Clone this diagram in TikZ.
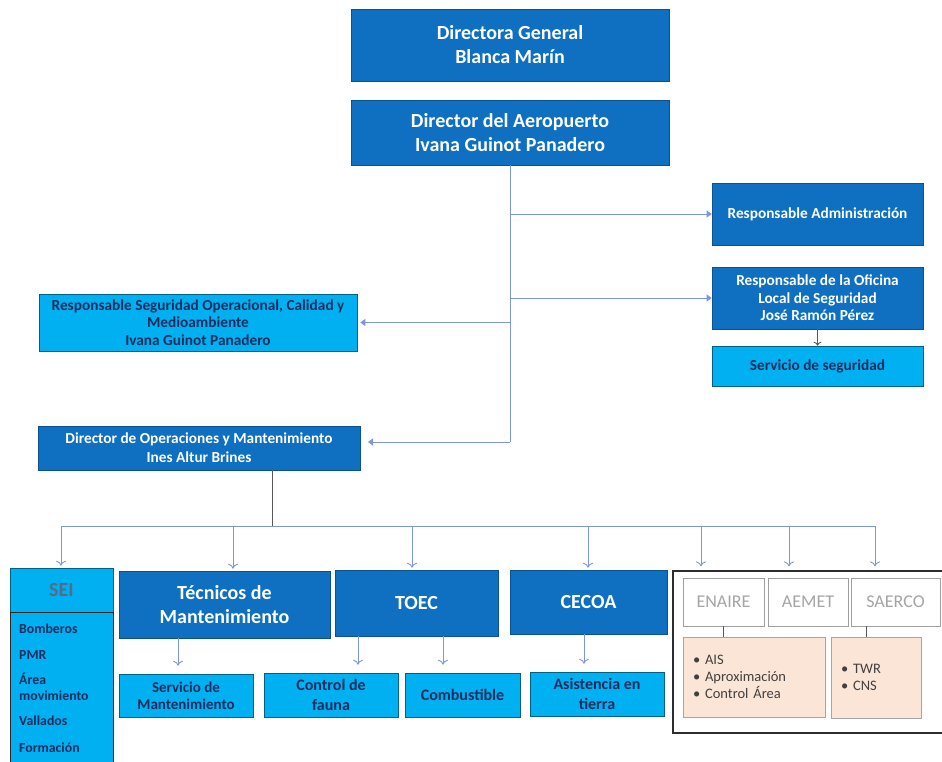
\documentclass[tikz,border=0pt]{standalone}
\usepackage{fontspec}
\setmainfont{Carlito}
\usetikzlibrary{arrows.meta}
\definecolor{dblue}{RGB}{15,111,192}
\definecolor{lblue}{RGB}{0,176,240}
\definecolor{navy}{RGB}{24,45,95}
\definecolor{connc}{RGB}{125,150,222}
\definecolor{peach}{RGB}{251,229,214}
\definecolor{gtext}{RGB}{165,165,165}
\definecolor{dtext}{RGB}{64,64,64}
\definecolor{seitext}{RGB}{80,110,140}
\tikzset{
 dbox/.style={draw=dblue!75!black, line width=0.6pt, fill=dblue, text=white, align=center, inner sep=2pt},
 lbox/.style={draw=lblue!55!black, line width=0.6pt, fill=lblue, text=navy, align=center, inner sep=2pt},
 gbox/.style={draw=gray!75, line width=0.9pt, fill=white, text=gtext, align=center, inner sep=2pt, font=\fontsize{18}{21}\selectfont},
 pbox/.style={draw=gray!70, line width=0.9pt, fill=peach, text=dtext, align=left, inner xsep=10pt, font=\fontsize{14.5}{17}\selectfont},
 connl/.style={draw=connc, line width=0.9pt},
 arr/.style={connl, -{To[length=5pt,width=10pt]}},
 harr/.style={connl, -{Triangle[length=5pt,width=7pt]}},
 grayl/.style={draw=gray!70!black, line width=0.9pt},
 midfont/.style={font=\bfseries\fontsize{15.3}{17.5}\selectfont},
}
\begin{document}
\begin{tikzpicture}[x=1pt,y=-1pt]
\useasboundingbox (0,0) rectangle (942,762);
% top
\node[dbox, minimum width=318pt, minimum height=72pt, font=\bfseries\fontsize{20}{24}\selectfont] (dg) at (510,45) {Directora General\\Blanca Marín};
\node[dbox, minimum width=318pt, minimum height=65pt, font=\bfseries\fontsize{20}{24}\selectfont] (da) at (510,132.5) {Director del Aeropuerto\\Ivana Guinot Panadero};
% right
\node[dbox, minimum width=211pt, minimum height=62pt, midfont] (radm) at (817.5,214) {Responsable Administración};
\node[dbox, minimum width=211pt, minimum height=62pt, midfont] (rofi) at (817.5,298) {Responsable de la Oficina\\Local de Seguridad\\José Ramón Pérez};
\node[lbox, minimum width=211pt, minimum height=40pt, midfont] (sseg) at (817.5,366) {Servicio de seguridad};
% left
\node[lbox, minimum width=318pt, minimum height=57pt, midfont] (rso) at (198,322.5) {Responsable Seguridad Operacional, Calidad y\\Medioambiente\\Ivana Guinot Panadero};
\node[dbox, minimum width=322pt, minimum height=44pt, font=\bfseries\fontsize{15.3}{19}\selectfont] (dops) at (199,448) {Director de Operaciones y Mantenimiento\\Ines Altur Brines};
% bottom row
\node[lbox, minimum width=103pt, minimum height=44pt, text=seitext, font=\bfseries\fontsize{20}{24}\selectfont] (sei) at (61.5,590) {SEI};
\node[lbox, draw=gray!30!black, line width=1pt, minimum width=103pt, minimum height=160pt, anchor=north] (seil) at (61.5,612) {};
\node[anchor=north west, align=left, inner sep=0pt, text=navy, font=\bfseries\fontsize{13.8}{15.5}\selectfont] (seilt) at (19,624) {Bomberos\\[10pt]PMR\\[10pt]Área\\movimiento\\[10pt]Vallados\\[11pt]Formación};
\node[dbox, minimum width=211pt, minimum height=67pt, font=\bfseries\fontsize{20}{24}\selectfont] (tec) at (224.5,604.5) {Técnicos de\\Mantenimiento};
\node[dbox, minimum width=163pt, minimum height=66pt, font=\bfseries\fontsize{20}{24}\selectfont] (toec) at (416.5,603) {TOEC};
\node[dbox, minimum width=157pt, minimum height=64pt, font=\bfseries\fontsize{20}{24}\selectfont] (cecoa) at (588.5,602) {CECOA};
\node[lbox, minimum width=134pt, minimum height=43pt, font=\bfseries\fontsize{15}{17}\selectfont] (smant) at (186,695.5) {Servicio de\\Mantenimiento};
\node[lbox, minimum width=134pt, minimum height=44pt, font=\bfseries\fontsize{16}{20}\selectfont] (cfauna) at (331,695) {Control de\\fauna};
\node[lbox, minimum width=115pt, minimum height=44pt, font=\bfseries\fontsize{16}{20}\selectfont] (comb) at (462.5,695) {Combustible};
\node[lbox, minimum width=134pt, minimum height=44pt, font=\bfseries\fontsize{16}{20}\selectfont] (atierra) at (597,694) {Asistencia en\\tierra};
% external box
\node[draw=gray!35!black, line width=1.3pt, fill=white, minimum width=272pt, minimum height=162pt] (ext) at (809,652) {};
\node[gbox, minimum width=81pt, minimum height=48pt] (enaire) at (723.5,602) {ENAIRE};
\node[gbox, minimum width=80pt, minimum height=48pt] (aemet) at (808,602) {AEMET};
\node[gbox, minimum width=89pt, minimum height=48pt] (saerco) at (895.5,602) {SAERCO};
\node[pbox, minimum width=142pt, text width=122pt, minimum height=80pt] (p1) at (754,677) {• AIS\\• Aproximación\\• Control Área};
\node[pbox, minimum width=90pt, text width=70pt, minimum height=81pt] (p2) at (876,677.5) {• TWR\\• CNS};
\draw[grayl] (enaire.south) -- (p1.north -| enaire.south);
\draw[grayl] (saerco.south -| 866,0) -- (p2.north -| 866,0);
% upper connectors
\coordinate (vend) at (510,442);
\coordinate (dtip) at (368,442);
\draw[connl] (da.south) -- (vend);
\draw[harr] (da.south |- radm.west) -- (radm.west);
\draw[harr] (da.south |- rofi.west) -- (rofi.west);
\draw[harr] (da.south |- rso.east) -- ([xshift=3pt]rso.east);
\draw[harr] (vend) -- (dtip);
\draw[draw=gray!70!black, line width=0.9pt, -{To[length=4pt,width=8pt]}] (rofi.south) -- (sseg.north);
% lower connectors
\coordinate (dj) at (272,470);
\coordinate (bl) at (61,526);
\coordinate (br) at (875,526);
\draw[grayl] (dj) -- (dj |- bl);
\draw[connl] (bl) -- (br);
\draw[arr] (bl) -- ([yshift=2pt]sei.north -| bl);
\foreach \x/\t in {233/tec,412/toec,588/cecoa}
  \draw[arr] (\x,526) -- ([yshift=2pt]\t.north -| \x,0);
\foreach \x in {701,789,875}
  \draw[arr] (\x,526) -- ([yshift=4pt]ext.north -| \x,0);
\draw[arr] (tec.south -| 178,0) -- ([yshift=8pt]smant.north -| 178,0);
\draw[arr] (toec.south -| 358,0) -- ([yshift=8pt]cfauna.north -| 358,0);
\draw[arr] (toec.south -| 443,0) -- ([yshift=8pt]comb.north -| 443,0);
\draw[arr] (cecoa.south -| 584,0) -- ([yshift=8pt]atierra.north -| 584,0);
\end{tikzpicture}
\end{document}
